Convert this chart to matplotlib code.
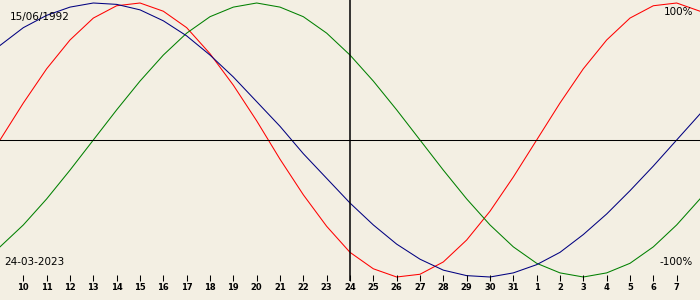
import matplotlib
matplotlib.use("Agg")
import matplotlib.pyplot as plt

# days shown, 9 March 2023 .. 8 April 2023 (as running day numbers)
days = list(range(9, 40))
day_labels = [str(d) for d in range(9, 32)] + [str(d) for d in range(1, 9)]
today = 24

# biorhythm values, one per day (-1 .. 1)
physical = [0, .27, .52, .73, .89, .98, 1.0, .94, .82, .63, .40, .14, -.14, -.40,
            -.63, -.82, -.94, -1.0, -.98, -.89, -.73, -.52, -.27, 0, .27, .52,
            .73, .89, .98, 1.0, .94]
emotional = [-.78, -.62, -.43, -.22, 0, .22, .43, .62, .78, .90, .97, 1.0, .97,
             .90, .78, .62, .43, .22, 0, -.22, -.43, -.62, -.78, -.90, -.97,
             -1.0, -.97, -.90, -.78, -.62, -.43]
intellectual = [.69, .82, .91, .97, 1.0, .99, .95, .87, .76, .62, .46, .28, .10,
                -.10, -.28, -.46, -.62, -.76, -.87, -.95, -.99, -1.0, -.97, -.91,
                -.82, -.69, -.54, -.37, -.19, 0, .19]

birth_txt = "15/06/1992"
date_txt = "24-03-2023"

bg = "#f3efe3"
fig = plt.figure(figsize=(7, 3), dpi=100, facecolor=bg)
ax = fig.add_axes([0, 0, 1, 1])
ax.set_facecolor(bg)
for s in ax.spines.values():
    s.set_visible(False)
ax.set_xticks([])
ax.set_yticks([])

# pixel layout: centre line at y=140, amplitude 137 px
amp = 137.0
ax.set_xlim(9, 39)
ax.set_ylim((140 - 300) / amp, 140 / amp)

lw = 0.75
ax.plot(days, physical, color="#ff0000", lw=lw)
ax.plot(days, emotional, color="#008000", lw=lw)
ax.plot(days, intellectual, color="#000080", lw=lw)

# axes lines
ax.axhline(0, color="black", lw=lw)
ax.vlines(today, (140 - 281) / amp, 140 / amp, color="black", lw=1.1)

# day ticks
tick_days = days[1:-1]
ax.vlines(tick_days, (140 - 281) / amp, (140 - 275) / amp, color="black", lw=lw)
for d, lab in zip(tick_days, day_labels[1:-1]):
    ax.text(d, (140 - 288) / amp, lab, ha="center", va="center",
            fontsize=6, fontweight="bold", color="black")

ax.text(0.014, 1 - 17 / 300, birth_txt, transform=ax.transAxes,
        ha="left", va="center", fontsize=7.5)
ax.text(0.006, 1 - 262 / 300, date_txt, transform=ax.transAxes,
        ha="left", va="center", fontsize=7.5)
ax.text(0.99, 1 - 12 / 300, "100%", transform=ax.transAxes,
        ha="right", va="center", fontsize=7.5)
ax.text(0.99, 1 - 262 / 300, "-100%", transform=ax.transAxes,
        ha="right", va="center", fontsize=7.5)

fig.savefig("out.png", dpi=100, facecolor=bg)
